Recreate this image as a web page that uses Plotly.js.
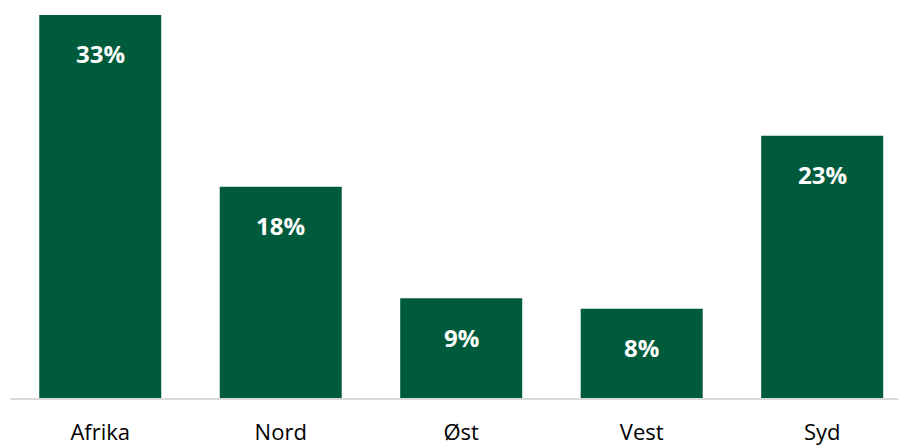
<!DOCTYPE html>
<html><head><meta charset="utf-8">
<script src="https://cdn.plot.ly/plotly-3.0.1.min.js"></script>
<style>html,body{margin:0;padding:0;background:#fff}</style>
</head><body>
<div id="chart" style="width:899px;height:445px"></div>
<script>
const categories = ["Afrika", "Nord", "Øst", "Vest", "Syd"];
const values = [33.0, 18.2, 8.6, 7.7, 22.6];
const labels = values.map(v => Math.round(v) + "%");

const trace = {
  type: "bar",
  x: categories,
  y: values,
  marker: {color: "#005b3c"},
  hoverinfo: "x+y"
};

const annotations = categories.map((c, i) => ({
  x: c, y: values[i], xref: "x", yref: "y",
  text: "<b>" + labels[i] + "</b>",
  showarrow: false, yanchor: "middle", yshift: -39,
  font: {family: "Open Sans, Liberation Sans, sans-serif", size: 24, color: "#ffffff"}
}));

const layout = {
  width: 899, height: 445,
  margin: {l: 10, r: 1, t: 10, b: 47},
  paper_bgcolor: "#ffffff", plot_bgcolor: "#ffffff",
  bargap: 0.324,
  showlegend: false,
  xaxis: {
    type: "category",
    range: [-0.5, 4.42],
    showline: true, linecolor: "#d9d9d9", linewidth: 1.5,
    ticks: "", showgrid: false, zeroline: false,
    tickfont: {family: "Open Sans, Liberation Sans, sans-serif", size: 22, color: "#000000"},
    ticklabelstandoff: 14
  },
  yaxis: {
    range: [0, 33.43], visible: false, showgrid: false, zeroline: false
  },
  annotations: annotations
};

Plotly.newPlot("chart", [trace], layout, {displayModeBar: false, staticPlot: true});
</script>
</body></html>
